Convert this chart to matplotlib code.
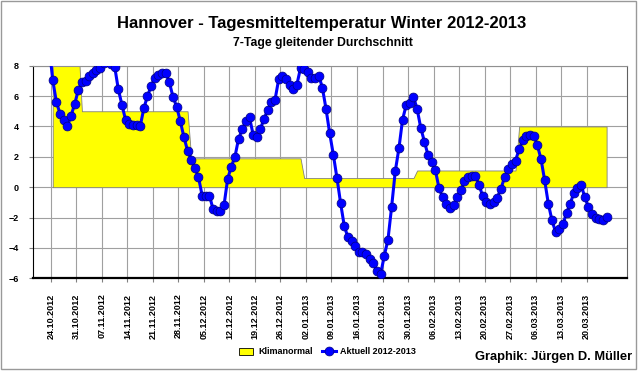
import numpy as np
import matplotlib.pyplot as plt
from matplotlib.patches import Rectangle, Patch
from matplotlib.lines import Line2D

plt.rcParams['font.family'] = ['Liberation Sans', 'DejaVu Sans']

# 7-Tage gleitender Durchschnitt, taeglich ab 23.10.2012 (erster Wert liegt oberhalb der Grafik)
aktuell = [
    9.3,                                              # 23.10.
    7.05, 5.6, 4.85, 4.4, 4.0, 4.7, 5.45,             # 24.10.
    6.4, 6.9, 7.0, 7.3, 7.55, 7.7, 7.87,              # 31.10.
    8.2, 8.4, 8.1, 7.93, 6.44, 5.41, 4.42,            # 07.11.
    4.15, 4.1, 4.1, 4.0, 5.2, 6.0, 6.65,              # 14.11.
    7.2, 7.38, 7.52, 7.55, 6.9, 5.95, 5.3,            # 21.11.
    4.35, 3.3, 2.4, 1.8, 1.25, 0.65, -0.55,           # 28.11.
    -0.55, -0.55, -1.45, -1.58, -1.58, -1.2, 0.55,    # 05.12.
    1.35, 2.0, 3.2, 3.8, 4.35, 4.6, 3.45,             # 12.12.
    3.3, 3.85, 4.5, 5.1, 5.6, 5.75, 7.1,              # 19.12.
    7.3, 7.1, 6.75, 6.45, 6.75, 7.85, 7.75,           # 26.12.
    7.6, 7.2, 7.2, 7.35, 6.55, 5.15, 3.55,            # 02.01.
    2.15, 0.6, -1.05, -2.55, -3.3, -3.55, -3.85,      # 09.01.
    -4.25, -4.3, -4.4, -4.7, -5.0, -5.55, -5.7,       # 16.01.
    -4.5, -3.45, -1.3, 1.05, 2.55, 4.45, 5.4,         # 23.01.
    5.55, 5.95, 5.15, 3.9, 3.0, 2.1, 1.67,            # 30.01.
    1.12, -0.05, -0.67, -1.08, -1.4, -1.2, -0.65,     # 06.02.
    -0.2, 0.4, 0.7, 0.75, 0.75, 0.15, -0.6,           # 13.02.
    -0.95, -1.08, -0.97, -0.68, -0.1, 0.65, 1.2,      # 20.02.
    1.55, 1.75, 2.5, 3.1, 3.35, 3.45, 3.4,            # 27.02.
    2.75, 1.85, 0.45, -1.08, -2.18, -2.95, -2.75,     # 06.03.
    -2.45, -1.7, -1.08, -0.4, -0.05, 0.15, -0.65,     # 13.03.
    -1.3, -1.75, -2.0, -2.1, -2.15, -1.95,            # 20.03.-25.03.
]

# Klimanormal je Monat (Okt..Mrz) und Anzahl Tage im Zeitraum 24.10.2012-25.03.2013
klima_werte = [9.6, 5.0, 1.9, 0.6, 1.1, 4.0]
klima_tage = [8, 30, 31, 31, 28, 25]

tick_labels = ['24.10.2012', '31.10.2012', '07.11.2012', '14.11.2012', '21.11.2012',
               '28.11.2012', '05.12.2012', '12.12.2012', '19.12.2012', '26.12.2012',
               '02.01.2013', '09.01.2013', '16.01.2013', '23.01.2013', '30.01.2013',
               '06.02.2013', '13.02.2013', '20.02.2013', '27.02.2013', '06.03.2013',
               '13.03.2013', '20.03.2013']

# day index 0 = 24.10.2012, points sit in the middle of each day
x_akt = np.arange(-1, len(aktuell) - 1) + 0.5
klima = np.repeat(klima_werte, klima_tage)
x_kli = np.arange(len(klima)) + 0.5

fig = plt.figure(figsize=(6.4, 3.72), dpi=100)
fig.patch.set_facecolor('white')
ax = fig.add_axes([0.0511, 0.2519, 0.9286, 0.5715])

ax.fill_between(x_kli, 0, klima, facecolor='#FFFF00', edgecolor='#808080',
                linewidth=0.6, zorder=2)
ax.plot(x_akt, aktuell, color='#0000FF', lw=2.2, marker='o', ms=6.4,
        mfc='#0000FF', mec='#000080', mew=0.5, zorder=3)

ax.set_xlim(-5.0, 158.1)
ax.set_ylim(-6, 8)
ax.set_yticks(range(-6, 9, 2))
ax.set_xticks(np.arange(len(tick_labels)) * 7)
ax.set_xticklabels(tick_labels, rotation=90, fontsize=6.5, fontweight='bold')
for t in ax.get_yticklabels():
    t.set_fontsize(6.5)
    t.set_fontweight('bold')
ax.tick_params(axis='x', length=3, pad=8, color='#808080')
ax.tick_params(axis='y', length=3, pad=7, color='#808080')
ax.grid(True, color='#a0a0a0', lw=0.8, zorder=0)
ax.set_axisbelow(True)

ax.spines['left'].set_color('black')
ax.spines['bottom'].set_color('black')
ax.spines['bottom'].set_linewidth(1.6)
ax.spines['top'].set_color('#909090')
ax.spines['right'].set_color('#606060')

fig.text(0.503, 0.938, 'Hannover - Tagesmitteltemperatur Winter 2012-2013',
         ha='center', va='center', fontsize=12, fontweight='bold')
fig.text(0.505, 0.885, '7-Tage gleitender Durchschnitt',
         ha='center', va='center', fontsize=8.8, fontweight='bold')

handles = [Patch(facecolor='#FFFF00', edgecolor='black', linewidth=0.6),
           Line2D([], [], color='#0000FF', lw=2.2, marker='o', ms=6.4,
                  mfc='#0000FF', mec='#000080', mew=0.5)]
fig.legend(handles, ['Klimanormal', 'Aktuell 2012-2013'], loc='center',
           bbox_to_anchor=(0.512, 0.054), ncol=2, frameon=False,
           prop={'size': 6.5, 'weight': 'bold'}, handlelength=1.6,
           handleheight=0.9, columnspacing=1.0, handletextpad=0.5)

fig.text(0.988, 0.040, 'Graphik: Jürgen D. Müller', ha='right', va='center',
         fontsize=9.3, fontweight='bold')

fig.add_artist(Rectangle((1 / 640, 3 / 372), 635 / 640, 368 / 372, fill=False,
                         edgecolor='#999999', lw=1, transform=fig.transFigure))

fig.savefig('out.png', dpi=100)
